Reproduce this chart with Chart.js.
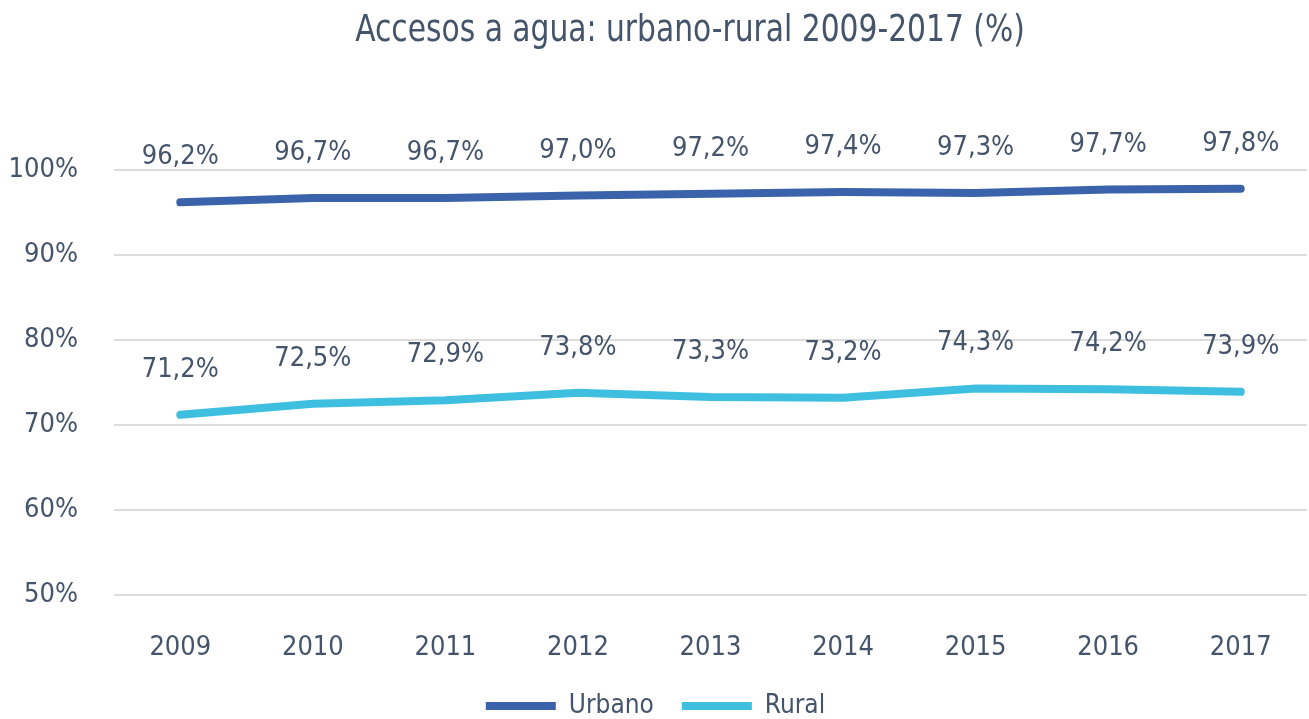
<!DOCTYPE html>
<html>
<head>
<meta charset="utf-8">
<script src="https://cdn.jsdelivr.net/npm/chart.js@4/dist/chart.umd.min.js"></script>
<style>
  html, body { margin: 0; padding: 0; background: #fff; }
  #wrap { width: 1309px; height: 719px; }
</style>
</head>
<body>
<div id="wrap"><canvas id="chart"></canvas></div>
<script>
// DATA
const years = ["2009","2010","2011","2012","2013","2014","2015","2016","2017"];
const urbano = [96.2, 96.7, 96.7, 97.0, 97.2, 97.4, 97.3, 97.7, 97.8];
const rural = [71.2, 72.5, 72.9, 73.8, 73.3, 73.2, 74.3, 74.2, 73.9];
const titleText = "Accesos a agua: urbano-rural 2009-2017 (%)";

const FONT = "'Liberation Sans Narrow', 'DejaVu Sans Condensed', 'Roboto', sans-serif";
const TEXT = "#44546a";

function pct(v) {
  return v.toFixed(1).replace(".", ",") + "%";
}

// value labels above each point + title
const pointLabels = {
  id: "pointLabels",
  afterDatasetsDraw(chart) {
    const ctx = chart.ctx;
    ctx.save();
    ctx.font = "27px " + FONT;
    ctx.fillStyle = TEXT;
    ctx.textAlign = "center";
    ctx.textBaseline = "middle";
    chart.data.datasets.forEach((ds, i) => {
      chart.getDatasetMeta(i).data.forEach((pt, j) => {
        ctx.fillText(pct(ds.data[j]), pt.x, pt.y - 45);
      });
    });
    // title, a bit squeezed like the condensed original
    ctx.font = "38px " + FONT;
    ctx.translate(690, 31);
    ctx.scale(0.87, 1);
    ctx.fillText(titleText, 0, 0);
    ctx.restore();
  }
};

new Chart(document.getElementById("chart"), {
  type: "line",
  data: {
    labels: years,
    datasets: [
      {
        label: "Urbano",
        data: urbano,
        borderColor: "#3b63ac",
        backgroundColor: "#3b63ac",
        borderWidth: 8,
        borderCapStyle: "round",
        pointRadius: 0,
        tension: 0
      },
      {
        label: "Rural",
        data: rural,
        borderColor: "#3ebfe0",
        backgroundColor: "#3ebfe0",
        borderWidth: 8,
        borderCapStyle: "round",
        pointRadius: 0,
        tension: 0
      }
    ]
  },
  options: {
    responsive: true,
    maintainAspectRatio: false,
    animation: false,
    layout: { padding: { left: 4, right: 2, top: 170, bottom: -10 } },
    plugins: {
      title: { display: false },
      legend: {
        position: "bottom",
        labels: {
          color: TEXT,
          font: { family: FONT, size: 26 },
          usePointStyle: true,
          pointStyle: "line",
          pointStyleWidth: 70,
          padding: 28
        }
      },
      tooltip: { enabled: false }
    },
    scales: {
      x: {
        offset: true,
        grid: { display: false },
        border: { display: false },
        afterFit: s => { s.height = 70; },
        ticks: {
          color: TEXT,
          font: { family: FONT, size: 27 },
          padding: 29
        }
      },
      y: {
        min: 50,
        max: 100,
        grid: { color: "#dcdcdc", lineWidth: 2, drawTicks: false },
        border: { display: false },
        afterFit: s => { s.width = 110; },
        ticks: {
          stepSize: 10,
          color: TEXT,
          font: { family: FONT, size: 27 },
          padding: 36,
          callback: v => v + "%"
        }
      }
    }
  },
  plugins: [pointLabels]
});
</script>
</body>
</html>
